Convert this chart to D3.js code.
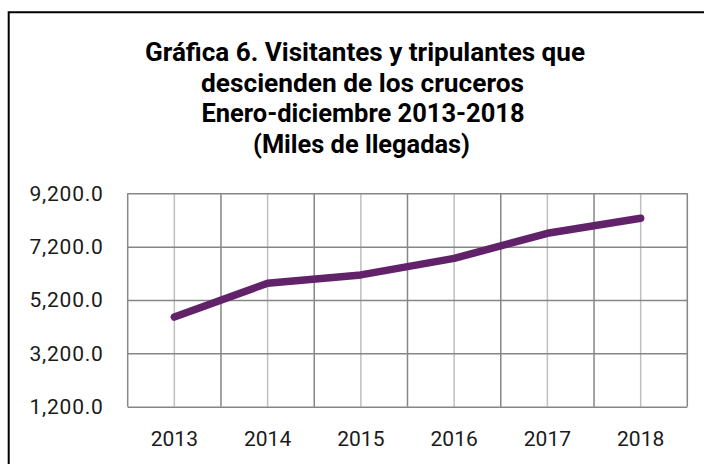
<!DOCTYPE html>
<html><head><meta charset="utf-8">
<script src="https://cdn.jsdelivr.net/npm/d3@7"></script>
<style>
html,body{margin:0;padding:0;background:#fff;}
svg{display:block;}
</style></head>
<body>
<svg id="chart" width="704" height="464"></svg>
<script>
const titleLines = ["Gráfica 6. Visitantes y tripulantes que", "descienden de los cruceros", "Enero-diciembre 2013-2018", "(Miles de llegadas)"];
const categories = ["2013", "2014", "2015", "2016", "2017", "2018"];
const values = [4560, 5830, 6140, 6760, 7700, 8265];
const yTicks = [1200, 3200, 5200, 7200, 9200];

const svg = d3.select("#chart");
const W = 704, H = 464;
const m = {left: 127.7, right: 704 - 687.3, top: 193.3, bottom: 464 - 406.7};
const iw = W - m.left - m.right, ih = H - m.top - m.bottom;

// outer frame (top and left)
svg.append("path").attr("d", `M8.7,464 V12.3 H704`).attr("fill", "none").attr("stroke", "#000").attr("stroke-width", 2);

// title
const titleW = [440, 323, 323, 217];
const titleX = [365, 362.5, 363, 361.5];
const titleY = [61, 91.5, 122, 152.5];
svg.append("g").selectAll("text").data(titleLines).join("text")
  .attr("x", (d, i) => titleX[i]).attr("y", (d, i) => titleY[i])
  .attr("text-anchor", "middle")
  .attr("font-family", "Roboto, 'Noto Sans', sans-serif")
  .attr("font-weight", "700").attr("font-size", 25.5).attr("fill", "#000")
  .attr("textLength", (d, i) => titleW[i]).attr("lengthAdjust", "spacingAndGlyphs")
  .text(d => d);

const x = d3.scaleBand().domain(categories).range([0, iw]).padding(0);
const y = d3.scaleLinear().domain([1200, 9200]).range([ih, 0]);

const g = svg.append("g").attr("transform", `translate(${m.left},${m.top})`);

// light vertical lines at category centres
const xAxis = g.append("g").attr("transform", `translate(0,${ih})`)
  .call(d3.axisBottom(x).tickSize(-ih).tickSizeOuter(0).tickPadding(24));
xAxis.select(".domain").remove();
xAxis.selectAll(".tick line").attr("stroke", "#bfbfbf").attr("stroke-width", 1.5);
xAxis.selectAll(".tick text")
  .attr("font-family", "Roboto, 'Noto Sans', sans-serif").attr("font-size", 21).attr("fill", "#1a1a1a");

// dark vertical lines at category boundaries
const bounds = categories.map(c => x(c)).concat([x(categories[categories.length - 1]) + x.bandwidth()]);
g.append("g").selectAll("line").data(bounds).join("line")
  .attr("x1", d => d).attr("x2", d => d).attr("y1", 0).attr("y2", ih)
  .attr("stroke", "#868686").attr("stroke-width", 1.5);

// horizontal grid + y labels
const yAxis = g.append("g")
  .call(d3.axisLeft(y).tickValues(yTicks).tickSize(-iw).tickPadding(24).tickFormat(d3.format(",.1f")));
yAxis.select(".domain").remove();
yAxis.selectAll(".tick line").attr("stroke", "#868686").attr("stroke-width", 1.5);
yAxis.selectAll(".tick text")
  .attr("font-family", "Roboto, 'Noto Sans', sans-serif").attr("font-size", 21).attr("fill", "#1a1a1a")
  .attr("letter-spacing", 0.8);

// line
const line = d3.line().x((d, i) => x(categories[i]) + x.bandwidth() / 2).y(d => y(d));
g.append("path").datum(values).attr("d", line)
  .attr("fill", "none").attr("stroke", "#62226a").attr("stroke-width", 7.5)
  .attr("stroke-linecap", "round").attr("stroke-linejoin", "round");
</script>
</body></html>
